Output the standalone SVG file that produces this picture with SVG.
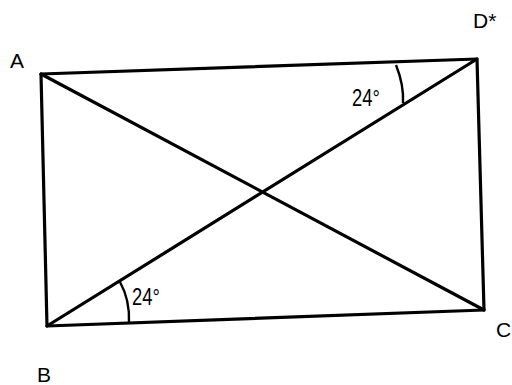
<svg xmlns="http://www.w3.org/2000/svg" width="512" height="385" viewBox="0 0 512 385">
<style>
.ln{stroke:#000;stroke-width:3.2;fill:none;stroke-linecap:round;stroke-linejoin:round}
.arc{stroke:#000;stroke-width:2.4;fill:none}
.lb{font-family:"Liberation Sans",Arial,sans-serif;font-size:21px;fill:#000}
.ang{font-family:"Liberation Sans",Arial,sans-serif;font-size:23px;fill:#000}
</style>
<rect width="512" height="385" fill="#fff"/>
<g id="connectors">
<polygon class="ln" points="41,74 477,59 484,310 47,326"/>
<line class="ln" x1="41" y1="74" x2="484" y2="310"/>
<line class="ln" x1="47" y1="326" x2="477" y2="59"/>
</g>
<g id="angle-B">
<path class="arc" d="M120,282 Q130,300 129,323"/>
<text class="ang" x="132" y="305" transform="translate(132 0) scale(0.8 1) translate(-132 0)">24°</text>
</g>
<g id="angle-D">
<path class="arc" d="M396,65 Q404,85 403,103"/>
<text class="ang" x="352" y="106" transform="translate(352 0) scale(0.8 1) translate(-352 0)">24°</text>
</g>
<g id="node-A"><text class="lb" x="10" y="68">A</text></g>
<g id="node-D"><text class="lb" x="473" y="28">D*</text></g>
<g id="node-B"><text class="lb" x="37" y="382">B</text></g>
<g id="node-C"><text class="lb" x="496" y="337">C</text></g>
</svg>
